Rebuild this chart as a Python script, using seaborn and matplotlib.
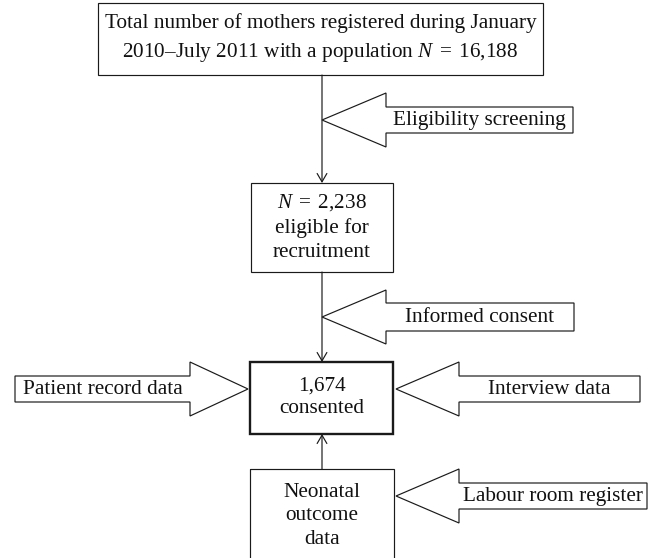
import matplotlib
matplotlib.use("Agg")
import matplotlib.pyplot as plt
from matplotlib.patches import Polygon, Rectangle
import seaborn as sns

# ---------------- content ----------------
box_labels = [
    "Total number of mothers registered during January\n2010\u2013July 2011 with a population $N\\;=\\;$16,188",
    "$N\\;=\\;$2,238\neligible for\nrecruitment",
    "1,674\nconsented",
    "Neonatal\noutcome\ndata",
]
arrow_labels = [
    "Eligibility screening",
    "Informed consent",
    "Patient record data",
    "Interview data",
    "Labour room register",
]

# ---------------- style ----------------
sns.set_theme(style="white")
plt.rcParams["font.family"] = ["Liberation Serif", "DejaVu Serif"]
plt.rcParams["mathtext.fontset"] = "custom"
plt.rcParams["mathtext.rm"] = "Liberation Serif"
plt.rcParams["mathtext.it"] = "Liberation Serif:italic"

W, H = 654, 558
fig = plt.figure(figsize=(W / 100, H / 100), dpi=100)
ax = fig.add_axes([0, 0, 1, 1])
ax.set_xlim(0, W)
ax.set_ylim(H, 0)
ax.axis("off")

FS = 15.3
LW = 0.85
EC = "#1a1a1a"
TC = "#111111"

# layout (pixel coordinates, y downward)
boxes = [  # x0, y0, x1, y1, linewidth, line spacing, text centre y
    (98, 3, 543, 75, LW, 1.5, 39),
    (251, 183, 393, 272, LW, 1.32, 227),
    (250, 362, 393, 434, 1.7, 1.25, 397),
    (250, 469, 394, 575, LW, 1.3, 516),
]
for (x0, y0, x1, y1, lw, ls, yc), lab in zip(boxes, box_labels):
    ax.add_patch(Rectangle((x0, y0), x1 - x0, y1 - y0, fill=False,
                           edgecolor=EC, linewidth=lw, zorder=3))
    ax.text((x0 + x1) / 2, yc, lab, ha="center", va="center",
            fontsize=FS, linespacing=ls, color=TC, zorder=4)

# block arrows: tip_x, tip_y, head_base_x, head_half, shaft_half, end_x
block_arrows = [
    (322, 120, 386, 27, 13, 573),
    (322, 317, 386, 27, 14, 574),
    (248, 389, 190, 27, 13, 15),
    (396, 389, 459, 27, 13, 640),
    (396, 496, 459, 27, 13, 647),
]
for (tx, ty, hb, hh, sh, ex), lab in zip(block_arrows, arrow_labels):
    pts = [(ex, ty - sh), (hb, ty - sh), (hb, ty - hh), (tx, ty),
           (hb, ty + hh), (hb, ty + sh), (ex, ty + sh)]
    ax.add_patch(Polygon(pts, closed=True, facecolor="white",
                         edgecolor=EC, linewidth=LW, zorder=3))
    ax.text((hb + ex) / 2, ty, lab, ha="center", va="center",
            fontsize=FS, color=TC, zorder=4)

# connecting line arrows: start (x,y) -> end (x,y)
connectors = [
    ((322, 75), (322, 183)),
    ((322, 272), (322, 362)),
    ((322, 469), (322, 434)),
]
for (sx, sy), (ex_, ey) in connectors:
    ax.annotate("", xy=(ex_, ey), xytext=(sx, sy),
                arrowprops=dict(arrowstyle="->,head_length=0.6,head_width=0.35",
                                color=EC, lw=LW, shrinkA=0, shrinkB=0,
                                mutation_scale=10),
                zorder=2)

fig.savefig("out.png", dpi=100, facecolor="white")
